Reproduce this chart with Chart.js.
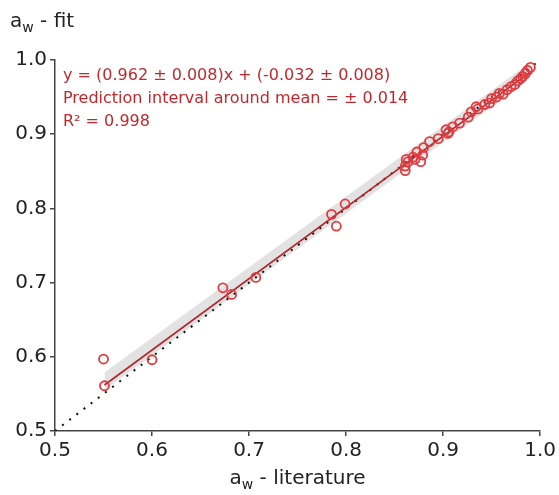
<!DOCTYPE html>
<html>
<head>
<meta charset="utf-8">
<script src="https://cdn.jsdelivr.net/npm/chart.js@4.4.1/dist/chart.umd.min.js"></script>
<style>
  html, body { margin: 0; padding: 0; background: #fff; }
  #grafico { display: block; }
</style>
</head>
<body>
<canvas id="grafico" width="559" height="495"></canvas>
<script>
// aw literatura (x) vs aw ajustado (y)
const awLiteratura = [0.550, 0.551, 0.600, 0.673, 0.682, 0.707, 0.785, 0.790, 0.799,
  0.861, 0.861, 0.862, 0.864, 0.869, 0.871, 0.873, 0.877, 0.879, 0.880, 0.886,
  0.895, 0.903, 0.905, 0.906, 0.910, 0.917, 0.926, 0.929, 0.934, 0.936, 0.943,
  0.948, 0.950, 0.955, 0.958, 0.962, 0.966, 0.970, 0.974, 0.977, 0.980, 0.982,
  0.985, 0.987, 0.990];
const awFit = [0.597, 0.561, 0.596, 0.693, 0.684, 0.707, 0.792, 0.776, 0.806,
  0.851, 0.857, 0.866, 0.863, 0.869, 0.866, 0.876, 0.863, 0.872, 0.882, 0.890,
  0.894, 0.906, 0.901, 0.903, 0.910, 0.915, 0.923, 0.930, 0.937, 0.934, 0.940,
  0.942, 0.948, 0.950, 0.955, 0.954, 0.960, 0.964, 0.967, 0.972, 0.975, 0.978,
  0.982, 0.986, 0.990];

// reta ajustada e faixa cinza (extremos)
const retaX = [0.551, 0.990];
const retaY = [0.562, 0.984];
const faixaBaixo = [0.555, 0.975];
const faixaCima = [0.579, 0.997];

// reta y = x
const identX = [0.5, 1.0];
const identY = [0.5, 1.0];

const ticksEixo = [0.5, 0.6, 0.7, 0.8, 0.9, 1.0];

const textoEq = [
  "y = (0.962 ± 0.008)x + (-0.032 ± 0.008)",
  "Prediction interval around mean = ± 0.014",
  "R² = 0.998"
];

const pts = (xs, ys) => xs.map((x, i) => ({ x, y: ys[i] }));

const FONTE = "'DejaVu Sans', sans-serif";
const VERMELHO = "#c0282e";

// escreve "a_w - ..." com subscrito
function tituloAw(ctx, resto, x, y, alinhar) {
  ctx.font = `20px ${FONTE}`;
  const wa = ctx.measureText("a").width;
  ctx.font = `14px ${FONTE}`;
  const ww = ctx.measureText("w").width;
  ctx.font = `20px ${FONTE}`;
  const wr = ctx.measureText(resto).width;
  let x0 = alinhar === "center" ? x - (wa + ww + wr) / 2 : x;
  ctx.textAlign = "left";
  ctx.fillText("a", x0, y);
  ctx.font = `14px ${FONTE}`;
  ctx.fillText("w", x0 + wa, y + 5);
  ctx.font = `20px ${FONTE}`;
  ctx.fillText(resto, x0 + wa + ww, y);
}

const textos = {
  id: "textos",
  afterDraw(chart) {
    const ctx = chart.ctx;
    const area = chart.chartArea;
    ctx.save();
    ctx.fillStyle = "#222";
    ctx.textBaseline = "alphabetic";
    tituloAw(ctx, " - fit", 10, 27, "left");
    tituloAw(ctx, " - literature", (area.left + area.right) / 2, 484, "center");

    ctx.fillStyle = VERMELHO;
    ctx.font = `16px ${FONTE}`;
    textoEq.forEach((t, i) => ctx.fillText(t, 63, 80 + i * 23));
    ctx.restore();
  }
};

const eixo = {
  type: "linear",
  min: 0.5,
  max: 1.0,
  afterBuildTicks: s => { s.ticks = ticksEixo.map(v => ({ value: v })); },
  ticks: {
    color: "#222",
    font: { family: FONTE, size: 20 },
    padding: 3,
    callback: v => v.toFixed(1)
  },
  grid: { display: true, drawOnChartArea: false, drawTicks: true, tickLength: 5, color: "#444", lineWidth: 1.5 },
  border: { display: true, color: "#444", width: 1.5 }
};

new Chart(document.getElementById("grafico"), {
  type: "scatter",
  data: {
    datasets: [
      {
        label: "medidos",
        data: pts(awLiteratura, awFit),
        borderColor: "#e23a3e",
        backgroundColor: "transparent",
        borderWidth: 1.8,
        pointRadius: 4.5,
        order: 0
      },
      {
        type: "line",
        label: "ajuste",
        data: pts(retaX, retaY),
        borderColor: "#b0262b",
        borderWidth: 1.6,
        pointRadius: 0,
        fill: false,
        order: 1
      },
      {
        type: "line",
        label: "y=x",
        data: pts(identX, identY),
        borderColor: "#111",
        borderWidth: 2,
        borderDash: [2, 7],
        pointRadius: 0,
        fill: false,
        order: 2
      },
      {
        type: "line",
        label: "faixa baixo",
        data: pts(retaX, faixaBaixo),
        borderWidth: 0,
        borderColor: "transparent",
        pointRadius: 0,
        fill: false,
        order: 3
      },
      {
        type: "line",
        label: "faixa cima",
        data: pts(retaX, faixaCima),
        borderWidth: 0,
        borderColor: "transparent",
        backgroundColor: "#e2e2e2",
        pointRadius: 0,
        fill: "-1",
        order: 4
      }
    ]
  },
  options: {
    responsive: false,
    animation: false,
    layout: { autoPadding: false, padding: { top: 60, right: 17, left: 0, bottom: 0 } },
    plugins: { legend: { display: false }, tooltip: { enabled: false } },
    scales: {
      x: Object.assign({}, eixo, { afterFit: s => { s.height = 64; } }),
      y: Object.assign({}, eixo, { afterFit: s => { s.width = 55; } })
    }
  },
  plugins: [textos]
});
</script>
</body>
</html>
